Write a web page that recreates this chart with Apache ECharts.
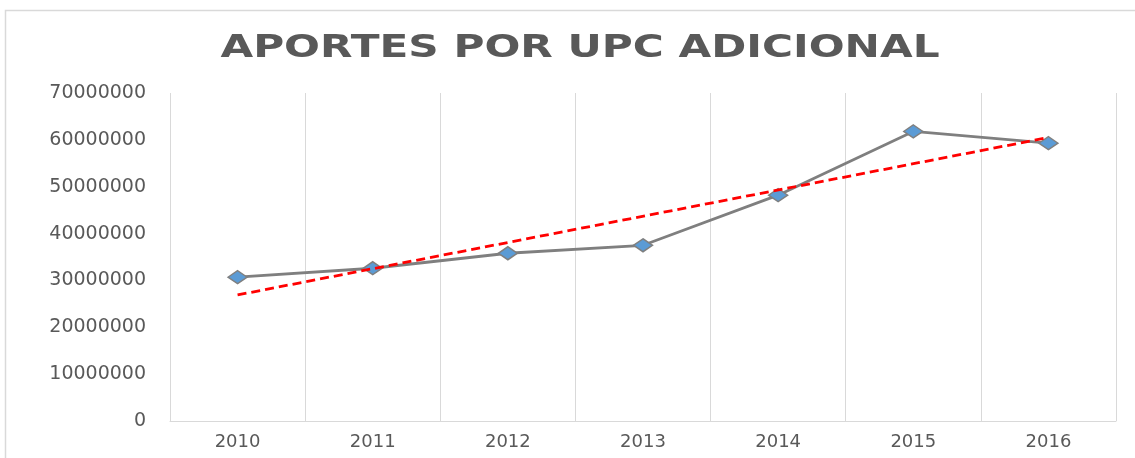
<!DOCTYPE html>
<html>
<head>
<meta charset="utf-8">
<script src="https://cdn.jsdelivr.net/npm/echarts@6/dist/echarts.min.js"></script>
<style>
html,body{margin:0;padding:0;background:#fff;}
#chart{width:1135px;height:458px;}
</style>
</head>
<body>
<div id="chart"></div>
<script>
const titleText = 'APORTES POR UPC ADICIONAL';
const years = ['2010','2011','2012','2013','2014','2015','2016'];
const aportes = [30700000, 32600000, 35800000, 37500000, 48200000, 61800000, 59300000];
const trendStart = 26900000;
const trendEnd = 60500000;
const yTicks = [0, 10000000, 20000000, 30000000, 40000000, 50000000, 60000000, 70000000];

const trendData = years.map((y, i) => i === 0 ? trendStart : (i === years.length - 1 ? trendEnd : null));

const chart = echarts.init(document.getElementById('chart'), null, {renderer: 'canvas'});
chart.setOption({
  backgroundColor: '#ffffff',
  animation: false,
  graphic: [{
    type: 'rect', shape: {x: 5.5, y: 10.5, width: 1140, height: 460},
    style: {fill: 'none', stroke: '#d9d9d9', lineWidth: 1.5}, z: -1
  }, {
    type: 'text', x: 580, y: 49, scaleX: 1.32,
    style: {text: titleText, align: 'center', verticalAlign: 'middle',
      fontFamily: 'DejaVu Sans', fontWeight: 'bold', fontSize: 32, fill: '#595959'}
  }],
  grid: {left: 170, right: 19, top: 93, bottom: 37},
  xAxis: {
    type: 'category', data: years, boundaryGap: true,
    axisLine: {show: true, lineStyle: {color: '#d9d9d9', width: 1}},
    axisTick: {show: false},
    splitLine: {show: true, lineStyle: {color: '#d9d9d9', width: 1}},
    axisLabel: {color: '#595959', fontSize: 18, fontFamily: 'DejaVu Sans', margin: 12}
  },
  yAxis: {
    type: 'value', min: yTicks[0], max: yTicks[yTicks.length - 1], interval: yTicks[1] - yTicks[0],
    axisLine: {show: false}, axisTick: {show: false}, splitLine: {show: false},
    axisLabel: {color: '#595959', fontSize: 19, fontFamily: 'DejaVu Sans', margin: 24,
      formatter: v => String(v)}
  },
  series: [{
    type: 'line', data: aportes,
    lineStyle: {color: '#7f7f7f', width: 2.8},
    symbol: 'diamond', symbolSize: [19, 13],
    itemStyle: {color: '#5b9bd5', borderColor: '#7f7f7f', borderWidth: 1.5},
    z: 3
  }, {
    type: 'line', data: trendData, connectNulls: true,
    symbol: 'none',
    lineStyle: {color: '#ff0000', width: 2.8, type: [9, 5]},
    z: 4
  }]
});
</script>
</body>
</html>
